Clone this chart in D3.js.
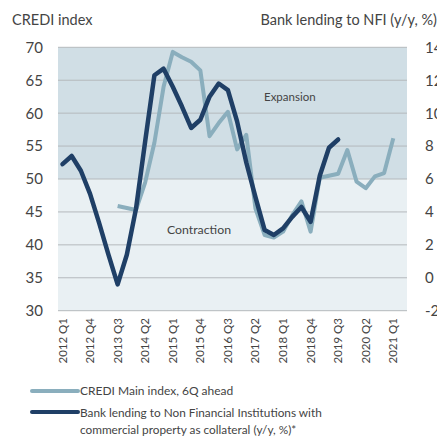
<!DOCTYPE html>
<html>
<head>
<meta charset="utf-8">
<script src="https://cdn.jsdelivr.net/npm/d3@7"></script>
<style>
  body { margin: 0; background: #fff; }
  text { font-family: Lato, "Open Sans", sans-serif; fill: #444; }
</style>
</head>
<body>
<div id="chart"></div>
<script>
// quarters 2012 Q1 .. 2021 Q1
var quarters = [];
for (var yr = 2012; yr <= 2021; yr++) {
  for (var q = 1; q <= 4; q++) {
    if (yr === 2021 && q > 1) break;
    quarters.push(yr + ' Q' + q);
  }
}

// CREDI main index, 6Q ahead (left axis)
var credi = [null, null, null, null, null, null,
  45.9, 45.6, 45.3, 49.5, 55.5, 64.0, 69.3, 68.5, 67.8, 66.5,
  56.5, 58.5, 60.2, 54.5, 56.7, 45.5, 41.5, 41.1, 42.0, 44.5,
  46.6, 42.0, 50.2, 50.5, 50.8, 54.4, 49.6, 48.6, 50.4, 50.9, 56.2];

// bank lending to NFI, y/y % (right axis)
var lending = [6.9, 7.4, 6.5, 5.1, 3.3, 1.4, -0.4, 1.4, 4.2, 8.3,
  12.3, 12.7, 11.6, 10.4, 9.1, 9.6, 11.0, 11.8, 11.4, 9.5,
  7.0, 4.9, 2.9, 2.6, 3.0, 3.7, 4.3, 3.4, 6.2, 7.9, 8.4,
  null, null, null, null, null, null];

var leftTicks = [30, 35, 40, 45, 50, 55, 60, 65, 70];
var rightTicks = [-2, 0, 2, 4, 6, 8, 10, 12, 14];

var width = 437;
var height = 437;

var svg = d3.select('#chart')
  .append('svg')
  .attr('width', width)
  .attr('height', height);

var plotLeft = 58, plotRight = 407;

var x = d3.scalePoint()
  .domain(quarters)
  .range([62.5, 393.3]);

var y = d3.scaleLinear()
  .domain([30, 70])
  .range([310.7, 47.3]);

var yRight = d3.scaleLinear()
  .domain([-2, 14])
  .range([310.7, 47.3]);

// backgrounds: expansion above 50, contraction below
svg.append('rect')
  .attr('x', plotLeft).attr('width', plotRight - plotLeft)
  .attr('y', y(70)).attr('height', y(50) - y(70))
  .attr('fill', '#d0dee5');
svg.append('rect')
  .attr('x', plotLeft).attr('width', plotRight - plotLeft)
  .attr('y', y(50)).attr('height', y(30) - y(50))
  .attr('fill', '#e9f0f3');

// gridlines
svg.selectAll('line.grid')
  .data(leftTicks)
  .enter()
  .append('line')
  .attr('class', 'grid')
  .attr('x1', plotLeft).attr('x2', plotRight)
  .attr('y1', function(d) { return y(d); })
  .attr('y2', function(d) { return y(d); })
  .attr('stroke', '#b4b9bc')
  .attr('stroke-width', 1);

// left axis labels
svg.selectAll('text.yl')
  .data(leftTicks)
  .enter()
  .append('text')
  .attr('class', 'yl')
  .attr('x', 43)
  .attr('y', function(d) { return y(d); })
  .attr('dy', '0.36em')
  .attr('text-anchor', 'end')
  .style('font-size', '15px')
  .text(function(d) { return d; });

// right axis labels (cut by the page edge, as in the original)
svg.selectAll('text.yr')
  .data(rightTicks)
  .enter()
  .append('text')
  .attr('class', 'yr')
  .attr('x', 425)
  .attr('y', function(d) { return yRight(d); })
  .attr('dy', '0.36em')
  .attr('text-anchor', 'start')
  .style('font-size', '15px')
  .text(function(d) { return d; });

// x labels every 3 quarters
svg.selectAll('text.xl')
  .data(quarters.filter(function(d, i) { return i % 3 === 0; }))
  .enter()
  .append('text')
  .attr('class', 'xl')
  .attr('transform', function(d) { return 'translate(' + x(d) + ',318) rotate(-90)'; })
  .attr('text-anchor', 'end')
  .attr('dy', '0.35em')
  .style('font-size', '11.5px')
  .text(function(d) { return d; });

// titles
svg.append('text').attr('x', 12).attr('y', 25)
  .style('font-size', '14.5px').text('CREDI index');
svg.append('text').attr('x', 437).attr('y', 25).attr('text-anchor', 'end')
  .style('font-size', '14.5px').text('Bank lending to NFI (y/y, %)');

svg.append('text').attr('x', 264).attr('y', 101)
  .style('font-size', '11.5px').text('Expansion');
svg.append('text').attr('x', 167).attr('y', 234)
  .style('font-size', '12.3px').text('Contraction');

// lines
var crediLine = d3.line()
  .defined(function(d) { return d.v !== null; })
  .x(function(d) { return x(d.q); })
  .y(function(d) { return y(d.v); });

var lendLine = d3.line()
  .defined(function(d) { return d.v !== null; })
  .x(function(d) { return x(d.q); })
  .y(function(d) { return yRight(d.v); });

svg.append('path')
  .datum(quarters.map(function(q, i) { return { q: q, v: credi[i] }; }))
  .attr('d', crediLine)
  .attr('fill', 'none')
  .attr('stroke', '#8aaebd')
  .attr('stroke-width', 4)
  .attr('stroke-linejoin', 'round');

svg.append('path')
  .datum(quarters.map(function(q, i) { return { q: q, v: lending[i] }; }))
  .attr('d', lendLine)
  .attr('fill', 'none')
  .attr('stroke', '#1f3f66')
  .attr('stroke-width', 4.5)
  .attr('stroke-linejoin', 'round')
  .attr('stroke-linecap', 'round');

// legend
svg.append('line').attr('x1', 32).attr('x2', 78).attr('y1', 391).attr('y2', 391)
  .attr('stroke', '#8aaebd').attr('stroke-width', 4).attr('stroke-linecap', 'round');
svg.append('text').attr('x', 80).attr('y', 395)
  .style('font-size', '12px').text('CREDI Main index, 6Q ahead');

svg.append('line').attr('x1', 32).attr('x2', 78).attr('y1', 412).attr('y2', 412)
  .attr('stroke', '#1f3f66').attr('stroke-width', 4).attr('stroke-linecap', 'round');
svg.append('text').attr('x', 80).attr('y', 417)
  .style('font-size', '11.8px').text('Bank lending to Non Financial Institutions with');
svg.append('text').attr('x', 80).attr('y', 434)
  .style('font-size', '11.8px').text('commercial property as collateral (y/y, %)*');
</script>
</body>
</html>
